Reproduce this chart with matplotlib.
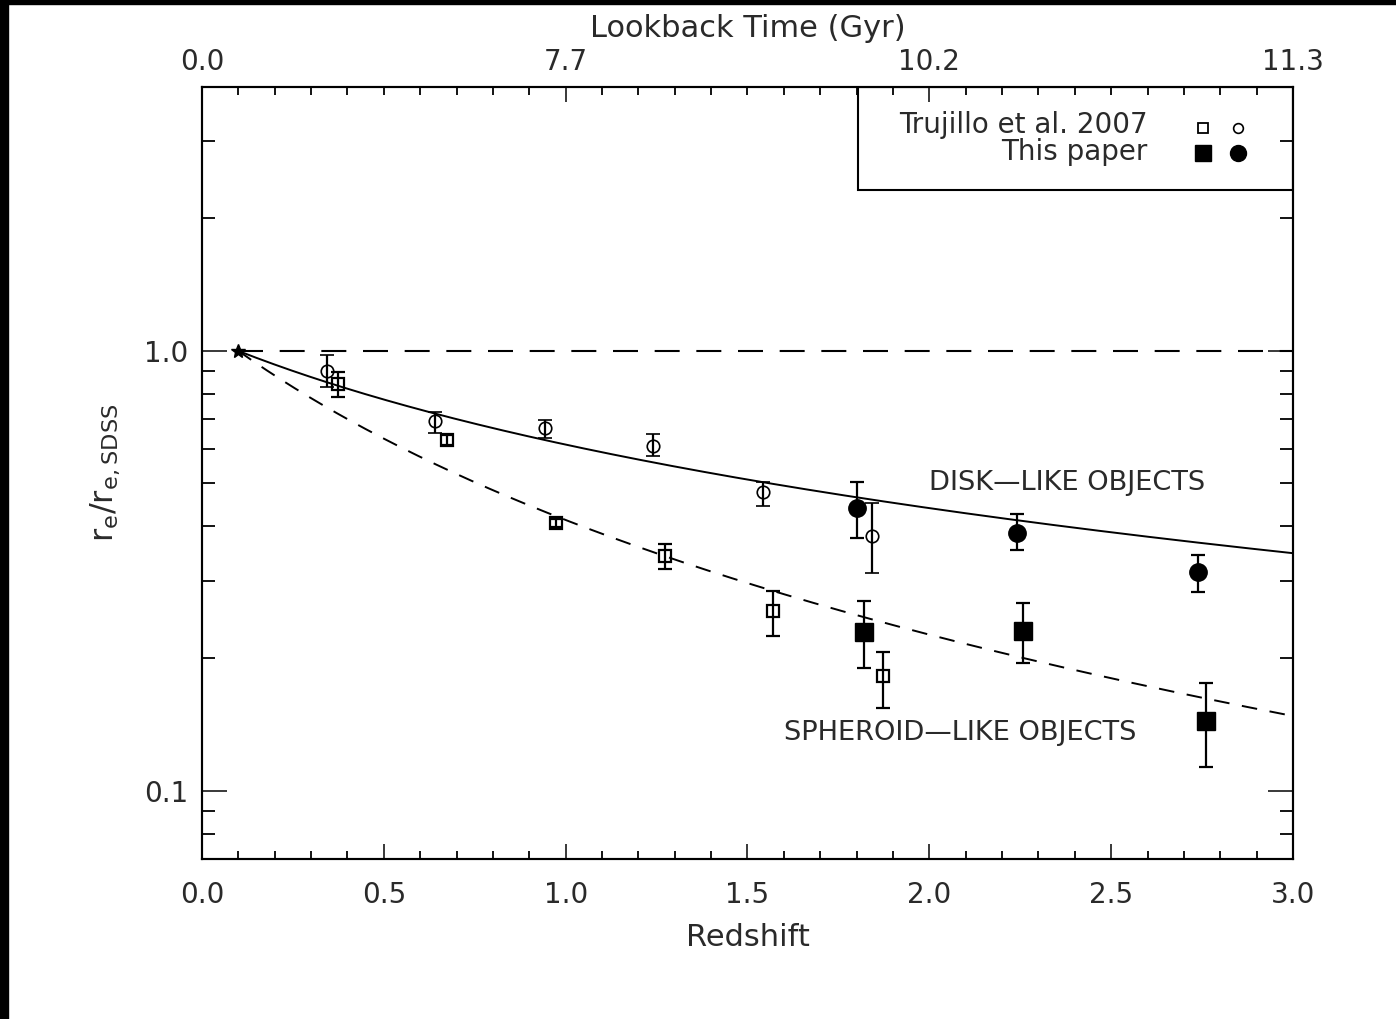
import numpy as np
import matplotlib
matplotlib.use("Agg")
import matplotlib.pyplot as plt
from matplotlib.patches import Rectangle
from matplotlib.ticker import LogLocator, MultipleLocator, FixedLocator, NullFormatter

plt.rcParams['font.family'] = ['DejaVu Sans']
plt.rcParams['mathtext.fontset'] = 'dejavusans'

# Trujillo et al. 2007 -- disk-like (open circles)
t07_disk_z = [0.344, 0.641, 0.943, 1.240, 1.543, 1.842]
t07_disk_r = [0.901, 0.693, 0.668, 0.608, 0.478, 0.380]
t07_disk_lo = [0.828, 0.651, 0.634, 0.577, 0.444, 0.313]
t07_disk_hi = [0.979, 0.727, 0.697, 0.648, 0.504, 0.451]

# Trujillo et al. 2007 -- spheroid-like (open squares)
t07_sph_z = [0.374, 0.674, 0.973, 1.273, 1.570, 1.873]
t07_sph_r = [0.841, 0.628, 0.406, 0.342, 0.256, 0.1825]
t07_sph_lo = [0.786, 0.612, 0.398, 0.320, 0.225, 0.1544]
t07_sph_hi = [0.896, 0.644, 0.415, 0.364, 0.285, 0.207]

# this paper -- disk-like (filled circles)
new_disk_z = [1.801, 2.241, 2.739]
new_disk_r = [0.440, 0.386, 0.3145]
new_disk_lo = [0.376, 0.353, 0.2834]
new_disk_hi = [0.504, 0.426, 0.344]

# this paper -- spheroid-like (filled squares)
new_sph_z = [1.820, 2.258, 2.761]
new_sph_r = [0.230, 0.231, 0.1442]
new_sph_lo = [0.190, 0.195, 0.1134]
new_sph_hi = [0.270, 0.2675, 0.176]

# SDSS reference point and power-law fits r ~ (1+z)^-alpha
z_ref = 0.1
r_ref = 1.0
disk_alpha = 0.82
sph_alpha = 1.48

# lookback time labels on the top axis
lookback_z = [0, 1, 2, 3]
lookback_gyr = ['0.0', '7.7', '10.2', '11.3']

TXT = '#2a2a2a'

fig = plt.figure(figsize=(13.96, 10.19), dpi=100)
ax = fig.add_axes([0.1447, 0.1570, 0.7815, 0.7576])

zz = np.linspace(z_ref, 3.0, 300)
ax.plot([z_ref, 3.0], [r_ref, r_ref], color='black', lw=1.5, ls=(0, (12, 8)))
ax.plot(zz, r_ref * ((1 + zz) / (1 + z_ref)) ** -disk_alpha, color='black', lw=1.4)
ax.plot(zz, r_ref * ((1 + zz) / (1 + z_ref)) ** -sph_alpha, color='black', lw=1.4,
        ls=(0, (8, 6.5)))
ax.plot([z_ref], [r_ref], marker='*', ms=10, color='black', ls='none')


def errs(r, lo, hi):
    r = np.array(r)
    return [r - np.array(lo), np.array(hi) - r]


eb = dict(ls='none', ecolor='black', elinewidth=1.6, capsize=5.2, capthick=1.6, color='black')
ax.errorbar(t07_disk_z, t07_disk_r, yerr=errs(t07_disk_r, t07_disk_lo, t07_disk_hi),
            marker='o', ms=9, mfc='none', mec='black', mew=1.2, **eb)
ax.errorbar(t07_sph_z, t07_sph_r, yerr=errs(t07_sph_r, t07_sph_lo, t07_sph_hi),
            marker='s', ms=9, mfc='none', mec='black', mew=1.6, **eb)
ax.errorbar(new_disk_z, new_disk_r, yerr=errs(new_disk_r, new_disk_lo, new_disk_hi),
            marker='o', ms=12.5, mfc='black', mec='black', **eb)
ax.errorbar(new_sph_z, new_sph_r, yerr=errs(new_sph_r, new_sph_lo, new_sph_hi),
            marker='s', ms=13.5, mfc='black', mec='black', **eb)

ax.text(2.0, 0.501, 'DISK\u2014LIKE OBJECTS', fontsize=19.6, va='center', ha='left', color=TXT)
ax.text(1.6, 0.1355, 'SPHEROID\u2014LIKE OBJECTS', fontsize=19.6, va='center', ha='left', color=TXT)

# legend box in the upper right corner
ax.add_patch(Rectangle((0.601, 0.8666), 0.399, 0.1334, transform=ax.transAxes,
                       fill=False, edgecolor='black', lw=1.5, zorder=5))
ax.text(0.867, 0.951, 'Trujillo et al. 2007', transform=ax.transAxes, fontsize=20,
        ha='right', va='center', color=TXT)
ax.text(0.867, 0.916, 'This paper', transform=ax.transAxes, fontsize=20,
        ha='right', va='center', color=TXT)
ax.plot([0.9175], [0.947], 's', ms=7.5, mfc='none', mec='black', mew=1.3, transform=ax.transAxes)
ax.plot([0.9496], [0.947], 'o', ms=7, mfc='none', mec='black', mew=1.2, transform=ax.transAxes)
ax.plot([0.9175], [0.9145], 's', ms=12, color='black', transform=ax.transAxes)
ax.plot([0.9496], [0.9145], 'o', ms=11.5, color='black', transform=ax.transAxes)

ax.set_xlim(0, 3)
ax.set_yscale('log')
ax.set_ylim(0.07, 3.98)
ax.xaxis.set_major_locator(MultipleLocator(0.5))
ax.xaxis.set_minor_locator(MultipleLocator(0.1))
ax.xaxis.set_major_formatter(plt.FuncFormatter(lambda v, p: '%.1f' % v))
ax.yaxis.set_major_locator(FixedLocator([0.1, 1.0]))
ax.yaxis.set_minor_locator(LogLocator(base=10, subs=np.arange(2, 10)))
ax.yaxis.set_major_formatter(plt.FuncFormatter(lambda v, p: '%.1f' % v))
ax.yaxis.set_minor_formatter(NullFormatter())

ax.tick_params(axis='x', which='major', direction='in', length=11, width=1.3,
               labelsize=20, pad=16, top=False, colors=TXT)
ax.tick_params(axis='x', which='minor', direction='in', length=6, width=1.3, top=False)
ax.tick_params(axis='y', which='major', direction='in', length=18, width=1.3,
               labelsize=20, pad=10, right=True, colors=TXT)
ax.tick_params(axis='y', which='minor', direction='in', length=9.5, width=1.3, right=True)
for s in ax.spines.values():
    s.set_linewidth(1.5)

ax.set_xlabel('Redshift', fontsize=22, labelpad=10, color=TXT)
ax.set_ylabel(r'$\mathrm{r_e/r_{e,SDSS}}$', fontsize=23, labelpad=16, color=TXT)

top = ax.twiny()
top.set_xlim(ax.get_xlim())
top.xaxis.set_major_locator(FixedLocator(lookback_z))
top.set_xticklabels(lookback_gyr)
top.xaxis.set_minor_locator(MultipleLocator(0.1))
top.tick_params(axis='x', which='major', direction='in', length=11, width=1.3,
                labelsize=20, pad=8, colors=TXT)
top.tick_params(axis='x', which='minor', direction='in', length=6, width=1.3)
top.set_xlabel('Lookback Time (Gyr)', fontsize=22, labelpad=8, color=TXT)
for s in top.spines.values():
    s.set_linewidth(1.5)

# thin black frame at the top and left edges
fig.add_artist(Rectangle((0, 1 - 4 / 1019), 1, 4 / 1019, transform=fig.transFigure,
                         color='black', zorder=10))
fig.add_artist(Rectangle((0, 0), 8 / 1396, 1, transform=fig.transFigure,
                         color='black', zorder=10))

fig.savefig('out.png', dpi=100)
